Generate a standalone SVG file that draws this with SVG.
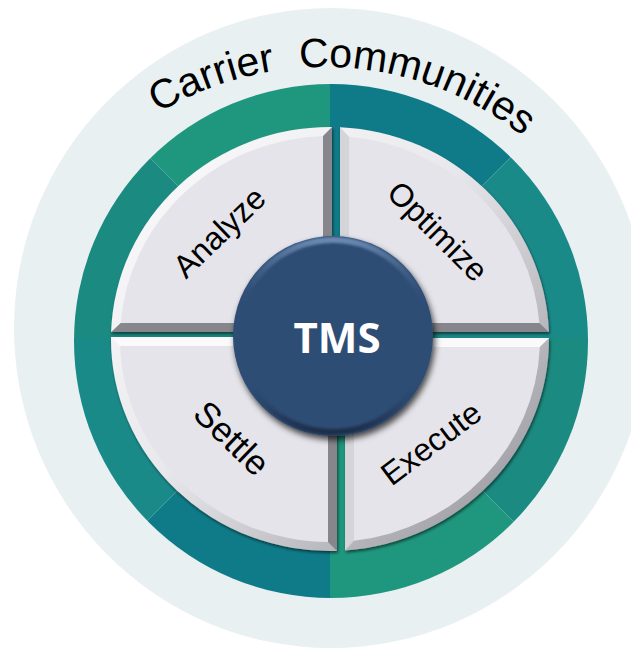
<svg xmlns="http://www.w3.org/2000/svg" xmlns:xlink="http://www.w3.org/1999/xlink" width="631" height="649" viewBox="0 0 631 649">
  <style>
    .face{fill:#e5e4ea}
    .lite{fill:#fafafc}
    .mid{fill:#d4d4d9}
    .dark{fill:#86868c}
    .lbl{font-family:"Liberation Sans",Arial,sans-serif;font-size:32px;fill:#000;text-anchor:middle}
    .title{font-family:"Liberation Sans",Arial,sans-serif;font-size:41px;fill:#000;text-anchor:middle}
    .tms{font-family:"Open Sans","Liberation Sans",sans-serif;font-size:42px;font-weight:bold;fill:#fff;text-anchor:middle}
  </style>
  <defs>
    <clipPath id="ringClip"><circle cx="331" cy="341" r="257"/></clipPath>
    <linearGradient id="bevel" gradientUnits="userSpaceOnUse" x1="110" y1="127" x2="549" y2="551">
      <stop offset="0" stop-color="#fdfdfe"/>
      <stop offset="0.45" stop-color="#e9e9ed"/>
      <stop offset="1" stop-color="#8c8c93"/>
    </linearGradient>
    <linearGradient id="rim" x1="0" y1="0" x2="0" y2="1">
      <stop offset="0" stop-color="#7190b8" stop-opacity="0.9"/>
      <stop offset="0.35" stop-color="#2f4d74" stop-opacity="0"/>
      <stop offset="0.7" stop-color="#2f4d74" stop-opacity="0"/>
      <stop offset="1" stop-color="#16263d" stop-opacity="0.8"/>
    </linearGradient>
    <filter id="qshadow" x="-10%" y="-10%" width="120%" height="120%">
      <feDropShadow dx="1" dy="2" stdDeviation="1.5" flood-color="#000" flood-opacity="0.55"/>
    </filter>
    <filter id="cshadow" x="-20%" y="-20%" width="140%" height="140%">
      <feDropShadow dx="2" dy="4" stdDeviation="3" flood-color="#000" flood-opacity="0.7"/>
    </filter>
    <filter id="soft"><feGaussianBlur stdDeviation="1.2"/></filter>
    <path id="titleArc" d="M4,387 A320,320 0 0 1 644,387"/>
  </defs>

  <g id="background">
    <rect width="631" height="649" fill="#ffffff"/>
    <ellipse cx="331" cy="328" rx="317" ry="320" fill="#e8f0f2"/>
  </g>

  <g id="carrier-ring" clip-path="url(#ringClip)">
    <path d="M330,338 L330,38 A300,300 0 0 1 542.13,125.87 Z" fill="#0f7b88"/>
    <path d="M330,338 L542.13,125.87 A300,300 0 0 1 630,338 Z" fill="#1a8a89"/>
    <path d="M330,338 L630,338 A300,300 0 0 1 542.13,550.13 Z" fill="#1b8a80"/>
    <path d="M330,338 L542.13,550.13 A300,300 0 0 1 330,638 Z" fill="#1f977e"/>
    <path d="M330,338 L330,638 A300,300 0 0 1 117.87,550.13 Z" fill="#0f7b88"/>
    <path d="M330,338 L117.87,550.13 A300,300 0 0 1 30,338 Z" fill="#1a8a89"/>
    <path d="M330,338 L30,338 A300,300 0 0 1 117.87,125.87 Z" fill="#1b8a80"/>
    <path d="M330,338 L117.87,125.87 A300,300 0 0 1 330,38 Z" fill="#1f977e"/>
  </g>

  <g id="title">
    <text class="title"><textPath xlink:href="#titleArc" href="#titleArc" startOffset="52%">Carrier<tspan dx="13"> Communities</tspan></textPath></text>
  </g>

  <g id="connectors"/>

  <g id="analyze">
    <path d="M332,332 L111.1,332 A219,212 0 0 1 332,127 Z" fill="url(#bevel)" filter="url(#qshadow)"/>
    <polygon class="dark" points="332,127 332,332 323,323 323,136.1"/>
    <polygon class="dark" points="111.1,332 332,332 323,323 120.7,323"/>
    <path class="face" d="M323,323 L120.7,323 A210,203 0 0 1 323,136.1 Z"/>
    <text class="lbl" transform="translate(220,233) rotate(-44)" y="10">Analyze</text>
  </g>

  <g id="optimize">
    <path d="M340,332 L340,127.2 A219,212 0 0 1 548.9,332 Z" fill="url(#bevel)" filter="url(#qshadow)"/>
    <polygon class="mid" points="340,332 340,127.2 349,136.8 349,323"/>
    <polygon class="dark" points="340,332 548.9,332 539.35,323 349,323"/>
    <path class="face" d="M349,323 L349,136.8 A210,203 0 0 1 539.35,323 Z"/>
    <text class="lbl" transform="translate(437,232) rotate(45)" y="10">Optimize</text>
  </g>

  <g id="settle">
    <path d="M337,337 L337,550.9 A219,212 0 0 1 111,337 Z" fill="url(#bevel)" filter="url(#qshadow)"/>
    <polygon class="lite" points="111,337 337,337 328,346 120.1,346"/>
    <polygon class="dark" points="337,337 337,550.9 328,542 328,346"/>
    <path class="face" d="M328,346 L328,542 A210,203 0 0 1 120.1,346 Z"/>
    <text class="lbl" transform="translate(231,439) rotate(44)" y="11" style="font-size:35px">Settle</text>
  </g>

  <g id="execute">
    <path d="M345,338 L549,338 A219,212 0 0 1 345,550.5 Z" fill="url(#bevel)" filter="url(#qshadow)"/>
    <polygon class="lite" points="345,338 549,338 539.8,347 354,347"/>
    <polygon class="mid" points="345,338 345,550.5 354,540.7 354,347"/>
    <path class="face" d="M354,347 L539.8,347 A210,203 0 0 1 354,540.7 Z"/>
    <text class="lbl" transform="translate(431.7,444) rotate(-37)" y="10">Execute</text>
  </g>

  <g id="tms">
    <circle cx="333" cy="336" r="100" fill="#2f4d74" filter="url(#cshadow)"/>
    <circle cx="333" cy="336" r="96" fill="none" stroke="url(#rim)" stroke-width="6" filter="url(#soft)"/>
    <text class="tms" x="337" y="353">TMS</text>
  </g>
</svg>
